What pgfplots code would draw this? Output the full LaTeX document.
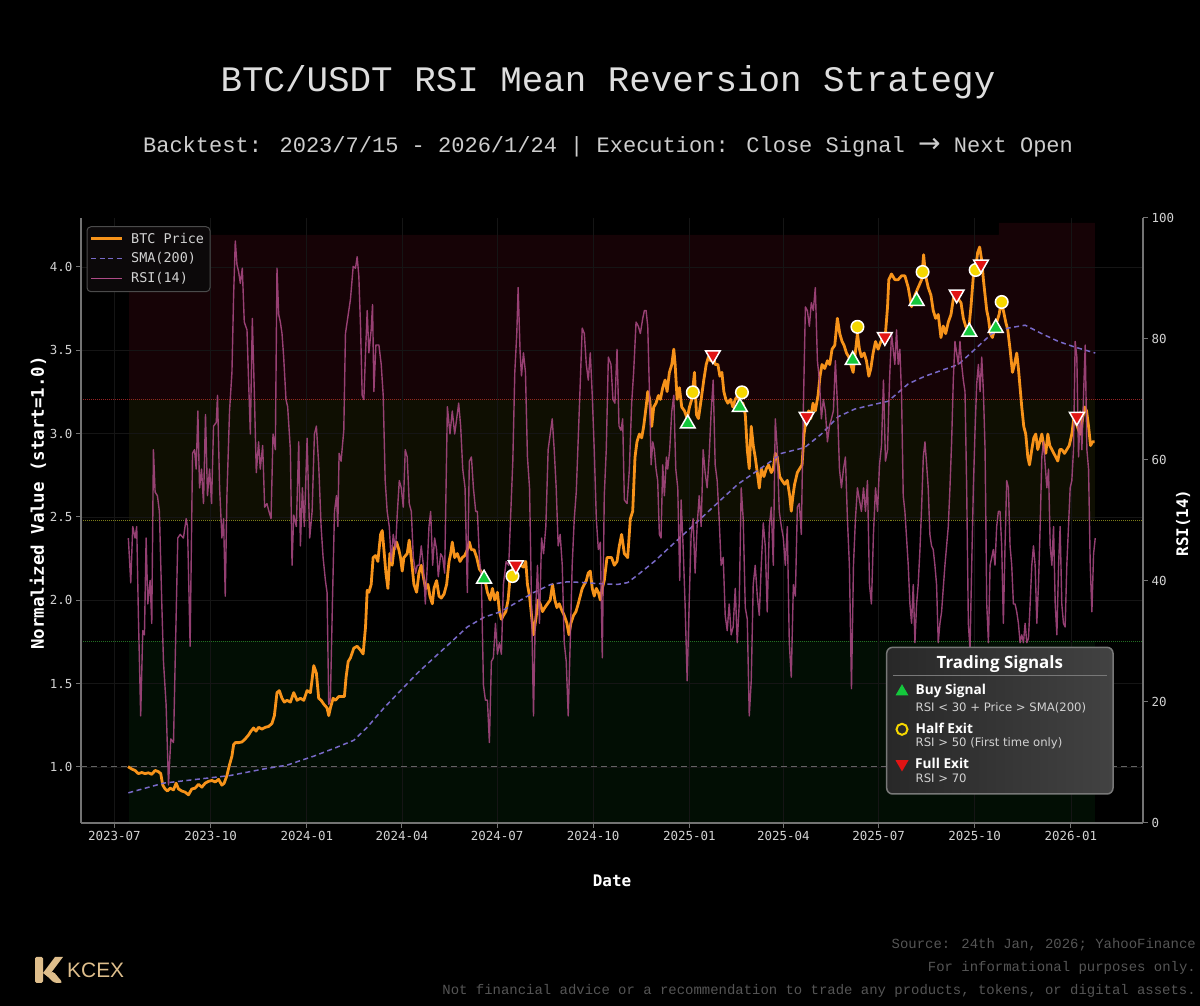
\documentclass[border=0pt]{standalone}
\usepackage{pgfplots}
\pgfplotsset{compat=1.18}
\usepackage{fontspec}
\setmainfont{DejaVu Sans}
\newfontfamily\dvmono{DejaVu Sans Mono}
\newfontfamily\ttl{Liberation Mono}
\newfontfamily\noto{Open Sans}
\newfontfamily\dvsans{DejaVu Sans}
\newfontfamily\lsans{Liberation Sans}
\usetikzlibrary{shapes.geometric}

\definecolor{btc}{RGB}{247,147,26}
\definecolor{sma}{RGB}{120,105,200}
\definecolor{rsi}{RGB}{175,75,135}
\definecolor{zred}{RGB}{22,3,6}
\definecolor{zyel}{RGB}{15,15,2}
\definecolor{zgrn}{RGB}{2,14,4}
\definecolor{lred}{RGB}{150,35,35}
\definecolor{lyel}{RGB}{125,125,25}
\definecolor{lgrn}{RGB}{35,110,35}
\definecolor{spine}{RGB}{115,115,115}
\definecolor{gridc}{RGB}{21,21,21}
\definecolor{tickc}{RGB}{210,210,210}
\definecolor{buyg}{RGB}{20,200,60}
\definecolor{halfy}{RGB}{245,215,0}
\definecolor{exitr}{RGB}{225,20,20}
\definecolor{titlec}{RGB}{222,222,222}
\definecolor{subc}{RGB}{205,205,205}
\definecolor{footc}{RGB}{85,85,85}
\definecolor{gold}{RGB}{222,190,140}
\definecolor{boxa}{RGB}{40,40,40}
\definecolor{boxb}{RGB}{66,66,66}
\definecolor{boxedge}{RGB}{120,120,120}
\definecolor{legbg}{RGB}{12,9,10}
\definecolor{legedge}{RGB}{75,75,75}
\definecolor{onegray}{RGB}{100,100,100}

\pgfplotsset{
  base/.style={at={(81bp,183bp)}, anchor=south west, scale only axis,
    width=1062bp, height=605bp, xmin=-32, xmax=984},
  tl/.style={font=\dvmono\fontsize{12.5}{15}\selectfont, text=tickc},
}

\begin{document}
\begin{tikzpicture}[x=1bp,y=1bp]
\fill[black] (0,0) rectangle (1200,1006);
\useasboundingbox (0,0) rectangle (1200,1006);

% ---------- zones (RSI scale) ----------
\begin{axis}[base, ymin=0, ymax=100, hide axis]
\addplot[fill=zred, draw=none] coordinates {(14,70)(14,97.2)(846,97.2)(846,99.2)(938,99.2)(938,70)} -- cycle;
\addplot[fill=zyel, draw=none] coordinates {(14,50)(14,70)(938,70)(938,50)} -- cycle;
\addplot[fill=zgrn, draw=none] coordinates {(14,0)(14,30)(938,30)(938,0)} -- cycle;
\addplot[lred, densely dotted, line width=1bp] coordinates {(-32,70)(984,70)};
\addplot[lyel, densely dotted, line width=1bp] coordinates {(-32,50)(984,50)};
\addplot[lgrn, densely dotted, line width=1bp] coordinates {(-32,30)(984,30)};
\end{axis}

% ---------- price axis ----------
\begin{axis}[base, ymin=0.664, ymax=4.293,
  axis x line*=bottom, axis y line*=left,
  axis line style={draw=spine, line width=1.2bp},
  tick align=outside, major tick length=5bp,
  tick style={draw=spine, line width=1bp},
  xtick={0,92,184,275,366,458,550,640,731,823,915},
  xticklabels={2023-07,2023-10,2024-01,2024-04,2024-07,2024-10,2025-01,2025-04,2025-07,2025-10,2026-01},
  ytick={1,1.5,2,2.5,3,3.5,4},
  yticklabels={1.0,1.5,2.0,2.5,3.0,3.5,4.0},
  ticklabel style={tl},
  grid=major, major grid style={draw=gridc, line width=0.6bp},
]
\addplot[onegray, dash pattern=on 6bp off 4bp, line width=1bp] coordinates {(-32,1)(984,1)};
\addplot[btc, line width=2.8bp, line join=round] coordinates {
(13,1.002)(16.5,0.988)(19.7,0.979)(22.9,0.960)(26.1,0.967)(29.3,0.960)(32.5,0.965)(35.7,0.956)(38.9,0.979)(42.1,0.972)(44.3,0.960)(46.2,0.891)(48.5,0.868)(50.7,0.856)(53.3,0.873)(56.5,0.863)(59,0.903)(61.3,0.868)(64.4,0.856)(67.6,0.849)(70.8,0.833)(74,0.868)(77.2,0.873)(80.4,0.896)(83.6,0.879)(86.8,0.903)(90,0.914)(93.2,0.919)(96.4,0.910)(99.6,0.926)(102.8,0.891)(105,0.903)(107.6,0.949)(109.8,1.007)(112.4,1.065)(114,1.134)(115.6,1.146)(118.8,1.146)(122,1.150)(125.2,1.169)(128.3,1.192)(130.6,1.215)(133.1,1.234)(135.4,1.215)(137.9,1.238)(141.1,1.227)(144.3,1.238)(147.5,1.243)(150.7,1.261)(153,1.308)(155.5,1.446)(157.7,1.458)(160.3,1.412)(162.5,1.389)(165.1,1.400)(168.3,1.389)(171.5,1.446)(174.7,1.400)(177.9,1.412)(181.1,1.400)(184.3,1.458)(187.5,1.446)(190.7,1.608)(193.2,1.562)(195.4,1.412)(197.7,1.400)(200.2,1.377)(203.4,1.354)(205,1.308)(206.6,1.354)(209.2,1.412)(211.4,1.400)(214.6,1.423)(217.8,1.423)(220,1.423)(221.6,1.539)(223.6,1.632)
(225.8,1.655)(229.0,1.713)(232.2,1.724)(235.4,1.701)(237.9,1.678)(240.2,1.840)(241.8,2.060)(243.4,2.048)(245.6,2.095)(247.5,2.256)(249.8,2.268)(252.0,2.233)(254.6,2.395)(256.2,2.418)(257.8,2.303)(259.7,2.164)(261.6,2.071)(263.5,2.280)(265.7,2.210)(267.3,2.303)(269.9,2.349)(272.1,2.303)(273.7,2.256)(275.3,2.175)(276.9,2.256)(280.1,2.280)(282.0,2.361)(284.3,2.233)(286.5,2.095)(289.1,2.048)(291.3,2.164)(293.5,2.210)(295.5,2.141)(297.7,2.071)(299.9,2.095)(301.8,2.025)(304.1,1.979)(305.7,2.071)(308.2,2.118)(310.5,2.025)(312.7,2.013)(315.3,2.037)(317.8,2.095)(320.1,2.233)(321.7,2.280)(323.2,2.349)(325.5,2.256)(328.0,2.280)(330.6,2.233)(332.8,2.256)(335.1,2.268)(337.6,2.303)(339.5,2.349)(341.5,2.303)(344.0,2.303)(346.6,2.256)(349.1,2.187)(351.7,2.164)(354.2,2.129)(356.8,2.048)(359.4,2.002)(361.6,2.071)(363.8,2.002)(366.4,2.048)(368.3,1.932)(370.2,1.886)(372.1,1.909)(374.4,1.932)(376.6,2.002)(378.5,2.141)(380.8,2.187)(384.0,2.210)(386.2,2.233)(388.7,2.210)(391.3,2.199)(393.5,2.233)(395.1,2.095)(397.1,2.025)(399.0,1.909)(400.9,1.793)(403.1,1.886)(405.4,2.002)(407.3,1.979)(409.5,1.932)(411.7,1.956)(414.3,1.979)(416.9,2.002)(419.1,2.095)(421.3,2.002)(423.3,1.956)(425.5,1.979)(427.7,1.944)(430.3,1.909)(432.8,1.863)(434.8,1.793)(436.7,1.863)(439.2,1.909)(441.5,1.932)(443.7,1.979)(445.6,2.025)(447.5,2.071)(449.5,2.095)(451.4,2.118)(453.3,2.164)(455.2,2.175)(457.1,2.071)(459.0,2.025)(461.0,2.071)(462.9,2.048)(464.8,2.002)(466.7,2.071)(468.6,2.118)(471.2,2.256)(473.4,2.256)(475.6,2.256)(478.2,2.210)(480.8,2.233)(483.0,2.326)(485.2,2.395)
(487.8,2.280)(491.0,2.256)(493.5,2.488)(495.8,2.534)(498.0,2.858)(499.9,2.951)(502.2,2.997)(504.4,2.974)(506.3,3.043)(508.6,3.159)(510.2,3.252)(512.1,3.205)(514.0,3.043)(515.9,3.159)(518.1,3.182)(520.4,3.228)(522.3,3.205)(524.5,3.275)(526.8,3.321)(528.7,3.252)(530.9,3.367)(533.2,3.414)(535.1,3.506)(536.4,3.414)(538.3,3.205)(540.5,3.275)(542.7,3.159)(545.3,3.136)(547.9,3.090)(550.1,3.159)(552.3,3.205)(554.9,3.367)(556.8,3.113)(558.7,3.090)(561.3,3.205)(563.8,3.321)(566.1,3.414)(568.3,3.460)(570.2,3.437)(572.5,3.483)(574.7,3.414)(577.3,3.414)(579.2,3.344)(581.1,3.367)(583.0,3.252)(584.9,3.205)(586.8,3.182)(589.4,3.205)(591.6,3.159)(593.9,3.205)(596.4,3.228)(599.0,3.159)(601.2,3.182)(603.5,3.113)(605.4,2.904)(607.3,2.789)(609.2,3.043)(611.1,2.928)(613.0,2.858)(615.0,2.766)(616.9,2.673)(618.8,2.789)(621.3,2.742)(623.6,2.789)(625.8,2.812)(628.4,2.766)(630.3,2.789)(632.2,2.881)(634.1,2.858)(636.4,2.742)(638.6,2.719)(641.2,2.696)(643.7,2.719)(646.0,2.627)(647.5,2.534)(649.1,2.627)(650.7,2.696)(653.3,2.766)(655.5,2.789)(657.8,2.812)(659.7,2.997)(661.9,3.090)(664.2,3.136)(666.1,3.090)(668.3,3.182)(670.5,3.136)(673.1,3.228)(675.0,3.344)(676.9,3.414)(679.5,3.390)(682.1,3.437)(684.3,3.414)(686.5,3.506)(689.1,3.529)(691.6,3.691)(693.9,3.599)(696.1,3.552)(698.0,3.529)(700.3,3.483)(702.5,3.460)(704.4,3.414)(706.7,3.367)(708.3,3.460)(710.8,3.599)(712.7,3.506)(714.6,3.460)(717.2,3.483)(719.4,3.437)(721.7,3.344)(723.6,3.390)(725.8,3.483)(728.1,3.552)(730.6,3.506)(733.2,3.552)(735.4,3.576)(737.6,3.599)(739.6,3.761)(740.8,3.923)(743.4,3.957)
(746.6,3.923)(749.8,3.923)(753.0,3.946)(756.2,3.946)(759.4,3.876)(762.6,3.761)(765.8,3.830)(768.9,3.876)(772.2,3.923)(774.1,4.073)(776.0,3.946)(778.5,3.876)(781.1,3.830)(783.3,3.738)(785.6,3.691)(788.1,3.714)(790.7,3.576)(792.9,3.645)(795.2,3.599)(797.7,3.668)(800.3,3.714)(802.5,3.807)(804.7,3.853)(807.3,3.807)(809.9,3.784)(812.1,3.691)(814.3,3.645)(816.9,3.599)(819.4,3.761)(821.7,3.946)(823.9,3.992)(825.8,4.085)(827.7,4.119)(829.7,4.038)(831.3,3.923)(832.9,3.830)(834.5,3.738)(836.1,3.691)(838.0,3.599)(839.9,3.576)(841.8,3.622)(844.0,3.668)(846.3,3.714)(848.2,3.784)(850.4,3.738)(852.7,3.668)(854.6,3.622)(856.8,3.506)(859.1,3.367)(861.0,3.414)(863.2,3.483)(864.8,3.390)(866.4,3.275)(868.0,3.159)(869.9,3.043)(871.8,2.997)(873.8,2.858)(875.4,2.812)(877.6,2.904)(879.5,2.974)(881.4,2.997)(883.3,2.904)(885.3,2.951)(887.2,2.997)(889.1,2.928)(891.0,2.881)(892.9,2.997)(894.8,2.928)(896.8,2.904)(898.7,2.881)(900.6,2.858)(902.5,2.835)(904.4,2.904)(906.3,2.904)(908.9,2.881)(911.1,2.904)(913.4,2.928)(915.9,2.997)(917.8,3.090)(919.8,3.067)(921.7,3.032)(923.9,2.997)(926.2,3.090)(928.1,3.159)(930.0,3.136)(931.9,3.043)(933.8,2.928)(935.7,2.951)(937.7,2.951)
};
\addplot[sma, line width=1.5bp, dash pattern=on 5bp off 3.5bp] coordinates {
(13.3,0.845)(46.9,0.903)(78.8,0.926)(110.8,0.949)(142.7,0.988)(165.1,1.011)(190.7,1.065)(209.8,1.111)(229,1.160)(241.8,1.238)(257.8,1.354)(273.7,1.458)(289.7,1.562)(305.7,1.655)(321.7,1.747)(337.6,1.840)(353.6,1.898)(369.6,1.932)(385.6,1.990)(401.5,2.048)(417.5,2.095)(433.5,2.111)(449.5,2.106)(465.4,2.099)(481.4,2.095)(491.0,2.106)(500.6,2.152)(516.5,2.233)(532.5,2.326)(548.5,2.418)(564.5,2.511)(580.4,2.604)(596.4,2.696)(612.4,2.766)(628.4,2.835)(638,2.881)(660.3,2.916)(676.3,2.997)(692.3,3.101)(708.3,3.147)(724.2,3.171)(740.2,3.194)(759.4,3.298)(775.4,3.344)(791.3,3.379)(807.3,3.414)(823.3,3.506)(839.3,3.599)(855.2,3.633)(871.2,3.650)(887.2,3.599)(903.2,3.552)(919.1,3.518)(938.3,3.483)
};
\end{axis}

% ---------- RSI line + right axis ----------
\begin{axis}[base, ymin=0, ymax=100,
  axis x line=none, axis y line*=right,
  axis line style={draw=spine, line width=1.2bp},
  tick align=outside, major tick length=5bp,
  tick style={draw=spine, line width=1bp},
  ytick={0,20,40,60,80,100}, yticklabels={0,20,40,60,80,100},
  ticklabel style={tl},
]
\addplot[rsi, line width=1.4bp, opacity=0.85, line join=round] coordinates {
(13.3,47.1)(15.6,39.7)(17.5,49.0)(19.7,47.1)(21.3,49.0)(22.9,34.3)(25.1,17.7)(27.1,31.8)(28.7,31.1)(30.3,47.1)(31.9,36.2)(34.1,40.1)(35.7,33.0)(37.3,61.7)(38.9,54.7)(41.1,54.1)(43.0,51.5)(45.3,36.2)(46.9,26.7)(49.4,19.6)(51.7,6.3)(53.9,13.9)(56.5,13.3)(58.1,26.7)(60.6,47.1)(62.9,47.7)(66.0,47.1)(68.6,50.3)(69.9,49.0)(72.4,29.2)(74.7,61.1)(76.6,61.7)(78.2,58.5)(79.8,68.1)(81.4,55.4)(83.3,58.5)(85.2,52.8)(87.1,67.5)(89.0,54.1)(91.0,58.5)(92.9,52.8)(94.8,65.6)(97.4,66.2)(98.6,70.7)(100.6,55.4)(102.8,47.1)(104.4,50.3)(106.0,37.5)(107.6,54.1)(110.1,68.1)(112.4,74.5)(114.0,87.2)(115.6,96.2)(117.2,92.3)(118.8,91.1)(120.4,89.2)(122.3,91.7)(124.2,82.8)(126.8,81.5)(128.3,73.2)(130.0,64.3)(131.9,83.4)(133.8,71.3)(135.7,57.9)(137.9,63.0)(139.5,58.5)(141.8,62.4)(143.7,52.2)(145.9,52.8)(147.8,51.5)(149.8,50.3)(151.7,64.3)(153.9,61.7)(155.5,91.7)(157.1,84.1)(158.7,82.8)(160.3,80.9)(161.9,77.0)(164.1,70.0)(165.7,68.8)(168.3,61.7)(169.9,42.6)(171.5,50.9)(174.0,49.0)(176.3,63.0)(177.9,45.8)(179.8,55.4)(181.7,49.0)(184.3,63.6)(186.8,47.1)(189.1,51.5)(191.3,64.3)(193.2,65.6)(195.4,59.2)(197.7,49.0)(199.6,43.9)(201.8,40.1)(203.4,38.1)(205.0,19.6)(206.6,20.3)(208.5,36.2)(210.5,51.5)(212.4,54.1)(213.7,49.0)(214.9,61.1)(216.8,59.8)(219.4,64.9)(221.0,80.9)(222.6,82.8)
(225.8,86.6)(228.4,92.0)(230.6,91.7)(232.2,93.6)(233.8,90.4)(235.4,82.1)(237.0,70.7)(238.6,70.0)(240.2,77.7)(241.8,84.7)(243.4,77.7)(245.6,81.5)(246.9,85.7)(248.2,71.3)(250.1,79.0)(253.0,79.0)(255.2,75.8)(257.1,70.7)(259.0,56.6)(260.9,51.5)(262.9,49.0)(264.8,43.2)(266.7,47.7)(268.9,45.2)(270.5,50.9)(272.5,56.6)(274.4,55.4)(276.3,52.2)(278.2,61.7)(280.1,60.5)(282.0,52.8)(284.0,51.5)(285.9,43.9)(288.1,41.3)(289.7,42.6)(291.6,42.6)(293.5,45.8)(295.5,42.6)(297.4,36.2)(299.3,42.6)(300.9,49.0)(302.5,51.5)(304.4,42.6)(306.3,47.1)(308.2,45.2)(309.8,40.7)(312.1,44.5)(314.0,43.9)(315.9,41.3)(318.5,68.8)(321.0,64.3)(323.2,68.1)(325.5,64.3)(327.4,66.8)(329.3,69.4)(331.2,65.6)(333.2,58.5)(335.4,55.4)(337.6,38.1)(339.5,59.8)(341.5,60.5)(343.4,55.4)(345.6,51.5)(347.2,51.5)(349.1,43.9)(351.0,40.7)(353.0,22.8)(354.9,20.3)(356.8,20.3)(358.7,13.3)(360.6,26.7)(362.5,27.3)(364.5,33.0)(366.4,27.9)(368.3,29.8)(370.2,27.9)(372.1,39.4)(374.7,43.2)(377.2,42.6)(379.2,51.5)(381.1,59.8)(383.0,74.5)(384.9,80.9)(386.2,88.5)(388.1,77.7)(389.4,73.9)(391.3,77.7)(393.2,74.5)(395.1,60.5)(397.1,55.4)(399.0,36.2)(400.9,17.7)(402.5,33.0)(404.7,42.6)(406.6,33.0)(408.6,47.1)(410.5,44.5)(412.7,49.0)(414.9,61.7)(416.9,64.3)(418.8,66.8)(420.7,61.7)(422.6,55.4)(424.5,45.8)(426.4,47.7)(428.4,42.6)(430.3,29.8)(432.2,26.7)(434.1,17.7)(436.0,29.8)(437.9,42.6)(439.9,50.3)(441.8,54.7)(443.7,63.6)(445.6,72.6)(447.5,81.8)(449.5,80.9)(451.4,75.8)(453.3,73.2)(455.2,77.7)(457.1,70.7)(459.0,61.7)(461.0,50.3)(462.9,45.2)(464.8,46.4)(466.7,27.3)(468.6,54.1)(470.5,61.7)(472.5,77.0)(475.0,75.8)(476.9,70.0)(478.8,69.4)(480.8,78.3)(482.7,65.6)(484.6,64.9)
(486.2,66.8)(487.8,53.4)(490.4,52.8)(492.6,58.5)(494.8,69.4)(496.7,74.5)(499.0,82.8)(501.2,82.1)(503.1,80.9)(505.4,83.4)(507.0,84.7)(508.6,84.7)(510.2,82.1)(511.8,71.3)(513.4,59.2)(515.0,63.0)(516.5,61.7)(518.1,58.5)(519.7,56.6)(521.3,47.7)(522.9,47.1)(524.5,59.2)(526.1,54.1)(528.1,60.5)(529.3,58.5)(531.2,61.7)(533.2,68.1)(535.1,70.7)(537.0,58.5)(538.9,55.4)(540.8,40.1)(542.1,53.4)(544.0,45.8)(545.9,36.2)(547.9,23.5)(549.8,36.2)(551.7,47.7)(553.6,50.3)(555.5,41.3)(557.4,49.0)(559.4,54.1)(561.3,49.0)(563.2,61.7)(565.1,57.9)(567.0,55.4)(568.9,60.5)(570.9,68.1)(572.8,73.2)(574.7,59.2)(576.6,56.6)(578.5,50.3)(580.4,42.6)(582.4,43.9)(584.3,34.3)(586.2,31.8)(588.1,36.2)(590.0,31.1)(591.9,32.4)(593.9,38.8)(595.8,29.8)(597.7,36.2)(599.6,55.4)(601.5,50.3)(603.5,35.6)(605.4,33.7)(607.3,17.7)(609.2,23.5)(611.1,39.4)(613.0,42.6)(615.0,37.5)(616.9,34.3)(618.8,42.6)(620.7,49.6)(622.6,45.8)(624.5,34.9)(626.5,49.0)(628.4,52.2)(630.3,42.6)(632.2,66.8)(634.1,61.7)(636.0,51.5)(638.0,49.0)(639.9,47.1)(641.8,42.6)(643.7,49.0)(645.6,29.8)(647.5,24.1)(649.5,39.4)(651.4,37.5)(653.3,52.2)(655.2,52.8)(657.1,47.7)(659.0,68.1)(661.0,85.3)(662.9,84.7)(664.8,82.1)(666.7,86.0)(668.6,84.7)(670.5,88.5)(672.5,76.4)(674.4,73.2)(676.3,66.8)(678.2,70.0)(680.1,68.1)(682.1,63.0)(684.0,65.6)(685.9,66.8)(687.8,68.1)(689.7,76.4)(691.6,69.4)(693.6,58.5)(695.5,55.4)(697.4,58.5)(699.3,60.5)(701.2,50.3)(703.1,42.6)(705.1,22.2)(707.0,42.6)(708.9,50.3)(710.8,55.4)(712.7,53.4)(714.6,51.5)(716.6,55.4)(718.5,51.5)(720.4,56.6)(722.3,39.4)(724.2,36.2)(726.1,47.7)(728.1,55.4)(730.0,51.5)(731.9,59.2)(733.8,62.4)(735.7,73.2)(737.6,59.8)(739.6,61.7)(741.5,73.2)
(743.4,80.9)(745.0,78.3)(746.6,75.8)(748.2,81.5)(749.8,75.8)(751.4,78.3)(753.0,70.7)(754.6,54.1)(756.2,51.5)(757.8,47.1)(759.4,42.6)(761.0,36.2)(762.6,33.0)(764.2,39.4)(765.8,29.8)(767.4,36.2)(768.9,39.4)(770.6,45.2)(772.2,52.2)(773.8,60.5)(775.4,63.0)(777.0,59.2)(778.5,55.4)(780.1,47.7)(781.7,45.8)(783.3,45.2)(784.9,42.6)(786.5,39.4)(788.1,29.8)(789.7,33.0)(791.3,34.9)(792.9,38.8)(794.5,42.6)(796.1,45.8)(797.7,49.0)(799.3,55.4)(800.9,63.0)(802.5,73.2)(804.1,79.6)(805.7,77.7)(807.3,75.8)(808.9,79.6)(810.5,75.8)(812.1,73.2)(813.7,71.3)(815.3,55.4)(816.9,33.0)(818.5,28.6)(820.1,42.6)(821.7,55.4)(823.3,64.9)(824.9,72.6)(826.5,75.8)(828.1,71.3)(829.7,77.0)(831.3,71.3)(832.9,61.7)(834.5,36.2)(836.1,29.8)(837.7,42.6)(839.3,43.9)(840.8,45.2)(842.4,42.6)(844.0,49.0)(845.6,51.5)(847.2,51.5)(848.8,45.8)(850.4,33.0)(852.0,45.8)(853.6,56.6)(855.2,55.4)(856.8,45.8)(858.4,42.6)(860.0,36.2)(861.6,36.2)(863.2,34.9)(864.8,33.0)(866.4,29.8)(868.0,31.1)(869.6,29.8)(871.2,33.0)(872.8,29.8)(874.4,30.5)(876.0,36.2)(877.6,42.6)(879.2,45.8)(880.8,42.6)(882.4,33.0)(884.0,39.4)(885.6,49.0)(887.2,60.5)(888.8,63.0)(890.4,59.2)(892.0,55.4)(893.6,58.5)(895.2,45.8)(896.8,42.6)(898.4,49.0)(900.0,36.2)(901.6,31.1)(903.2,42.6)(904.7,49.0)(906.3,36.2)(907.9,33.0)(909.5,32.4)(911.1,42.6)(912.7,49.0)(914.3,55.4)(915.9,56.6)(917.5,61.7)(919.1,79.6)(920.7,77.0)(922.3,60.5)(923.9,68.1)(925.5,61.7)(927.1,70.7)(928.7,79.0)(930.3,61.7)(931.9,58.5)(933.5,42.6)(935.1,34.9)(936.7,44.5)(938.3,47.1)
};
\end{axis}

% ---------- signal markers (price scale) ----------
\begin{axis}[base, ymin=0.664, ymax=4.293, hide axis, clip=false]
\addplot[only marks, mark=triangle*, mark size=8.5bp, mark options={fill=buyg, draw=white, line width=1.5bp}]
 coordinates {(353.6,2.129)(548.5,3.059)(598.3,3.159)(706.3,3.441)(767.4,3.795)(817.8,3.610)(843.1,3.633)};
\addplot[only marks, mark=*, mark size=6.3bp, mark options={fill=halfy, draw=white, line width=1.5bp}]
 coordinates {(380.8,2.145)(553.3,3.247)(600.3,3.247)(710.8,3.640)(773.1,3.969)(823.9,3.981)(848.8,3.789)};
\addplot[only marks, mark=triangle*, mark size=8.5bp, mark options={rotate=180, fill=exitr, draw=white, line width=1.5bp}]
 coordinates {(384.0,2.210)(572.5,3.471)(662.2,3.101)(737.0,3.580)(805.7,3.835)(829.0,4.015)(920.7,3.101)};
\end{axis}

% ---------- axis labels ----------
\node[font=\dvmono\bfseries\fontsize{17.5}{20}\selectfont, text=white, rotate=90] at (38,503) {Normalized Value (start=1.0)};
\node[font=\dvmono\bfseries\fontsize{16}{19}\selectfont, text=white] at (612,125) {Date};
\node[font=\dvmono\bfseries\fontsize{16}{19}\selectfont, text=white, rotate=90] at (1183,483) {RSI(14)};

% ---------- top-left legend ----------
\draw[rounded corners=4bp, fill=legbg, draw=legedge, line width=1bp] (87,714.3) rectangle (210,779.3);
\draw[btc, line width=2.8bp] (91,767.7) -- (121.7,767.7);
\draw[sma, line width=1.5bp, dash pattern=on 5bp off 3.5bp] (91,747.7) -- (121.7,747.7);
\draw[rsi, line width=1.4bp] (91,727.3) -- (121.7,727.3);
\begin{scope}[every node/.style={anchor=west, inner sep=0, font=\dvmono\fontsize{13.5}{16}\selectfont, text=tickc}]
\node at (131,767.7) {BTC Price};
\node at (131,747.7) {SMA(200)};
\node at (131,727.3) {RSI(14)};
\end{scope}

% ---------- trading signals box ----------
\path[rounded corners=6bp, left color=boxa, right color=boxb, draw=boxedge, line width=1.5bp] (886.7,212) rectangle (1113,358.7);
\draw[boxedge, line width=0.8bp] (893,330.3) -- (1107,330.3);
\node[font=\noto\bfseries\fontsize{17}{20}\selectfont, text=white] at (999.8,342) {Trading Signals};
\node[regular polygon, regular polygon sides=3, fill=buyg, inner sep=0, minimum size=15bp] at (902,314.3) {};
\draw[halfy, line width=2bp] (902,276.7) circle (5.5bp);
\node[regular polygon, regular polygon sides=3, shape border rotate=180, fill=exitr, inner sep=0, minimum size=15bp] at (902,242) {};
\begin{scope}[every node/.style={anchor=west, inner sep=0}]
\node[font=\noto\bfseries\fontsize{13.7}{16}\selectfont, text=white] at (915.5,315) {Buy Signal};
\node[font=\dvsans\fontsize{11.7}{14}\selectfont, text=tickc] at (915.5,298.3) {RSI < 30 + Price > SMA(200)};
\node[font=\noto\bfseries\fontsize{13.7}{16}\selectfont, text=white] at (915.5,277.3) {Half Exit};
\node[font=\dvsans\fontsize{11.7}{14}\selectfont, text=tickc] at (915.5,262.3) {RSI > 50 (First time only)};
\node[font=\noto\bfseries\fontsize{13.7}{16}\selectfont, text=white] at (915,242.3) {Full Exit};
\node[font=\dvsans\fontsize{11.7}{14}\selectfont, text=tickc] at (915.5,228) {RSI > 70};
\end{scope}

% ---------- titles ----------
\node[font=\ttl\fontsize{36}{40}\selectfont, text=titlec] at (608,924) {BTC/USDT RSI Mean Reversion Strategy};
\node[font=\ttl\fontsize{22.1}{26}\selectfont, text=subc] at (608,859) {Backtest: 2023/7/15 - 2026/1/24 | Execution: Close Signal {\dvsans\fontsize{27}{27}\selectfont →} Next Open};

% ---------- footer ----------
\begin{scope}[every node/.style={anchor=east, inner sep=0, font=\ttl\fontsize{14}{16}\selectfont, text=footc}]
\node at (1196,61) {Source: 24th Jan, 2026; YahooFinance};
\node at (1196,38) {For informational purposes only.};
\node at (1196,15) {Not financial advice or a recommendation to trade any products, tokens, or digital assets.};
\end{scope}

% ---------- logo ----------
\fill[gold, rounded corners=1.5bp] (35,23) rectangle (43,49);
\fill[gold] (43,33) -- (55,49) -- (63,49) -- (48,29) -- cycle;
\fill[gold, rounded corners=3bp] (46,31) -- (53,35) -- (63,23) -- (54,23) -- cycle;
\node[anchor=west, inner sep=0, font=\lsans\fontsize{21}{24}\selectfont, text=gold] at (67,35.5) {KCEX};

\end{tikzpicture}
\end{document}
